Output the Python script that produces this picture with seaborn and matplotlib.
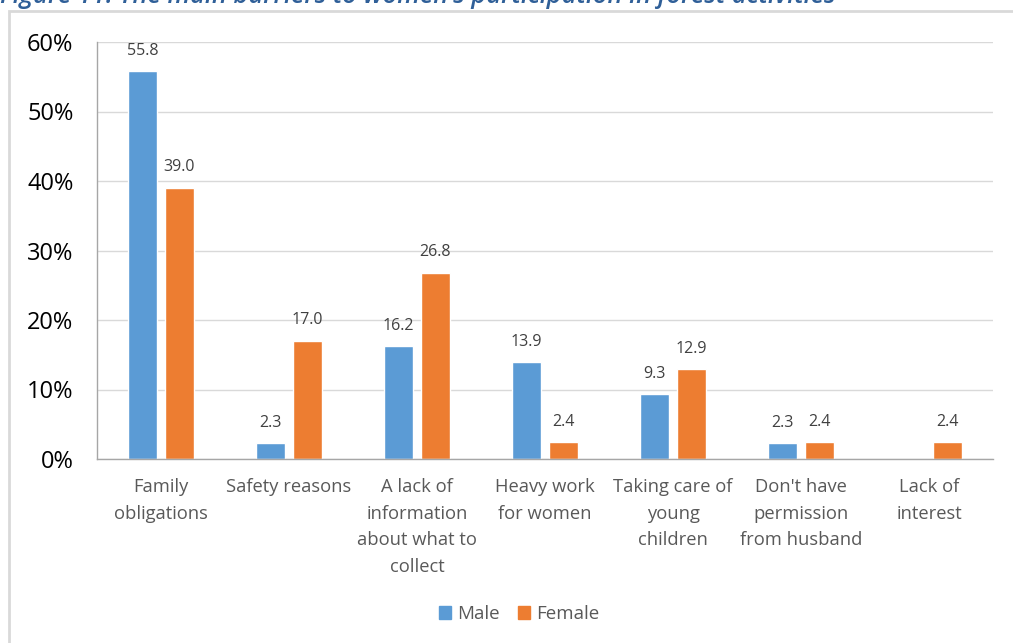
import matplotlib
matplotlib.use("Agg")
import matplotlib.pyplot as plt
import matplotlib.patches as mpatches
from matplotlib.ticker import FixedLocator, FuncFormatter
import numpy as np
import pandas as pd
import seaborn as sns

categories = ["Family\nobligations", "Safety reasons", "A lack of\ninformation\nabout what to\ncollect",
              "Heavy work\nfor women", "Taking care of\nyoung\nchildren", "Don't have\npermission\nfrom husband",
              "Lack of\ninterest"]
male = [55.8, 2.3, 16.2, 13.9, 9.3, 2.3, np.nan]
female = [39.0, 17.0, 26.8, 2.4, 12.9, 2.4, 2.4]
series = ["Male", "Female"]
title = "Figure 11: The main barriers to women's participation in forest activities"

sns.set_style("white")
plt.rcParams['font.family'] = ['Open Sans', 'DejaVu Sans']

df = pd.DataFrame({
    "category": categories * 2,
    "value": male + female,
    "series": ["Male"] * len(categories) + ["Female"] * len(categories),
})

fig = plt.figure(figsize=(10.13, 6.43), dpi=100)
ax = fig.add_axes([97/1013, 1-459/643, (993-97)/1013, (459-42)/643])

sns.barplot(data=df, x="category", y="value", hue="series", order=categories,
            hue_order=series, palette=["#5B9BD5", "#ED7D31"], width=0.578, gap=0.216,
            ax=ax, legend=False, saturation=1)

ax.set_ylim(0, 60)
ax.set_xlim(-0.5, len(categories) - 0.5)
ax.set_yticks([0, 10, 20, 30, 40, 50, 60])
ax.yaxis.set_major_formatter(FuncFormatter(lambda v, p: f"{int(v)}%"))
ax.grid(axis="y", color="#D9D9D9", linewidth=1)
ax.set_axisbelow(True)
ax.set_xlabel("")
ax.set_ylabel("")

for s in ["top", "right"]:
    ax.spines[s].set_visible(False)
for s in ["left", "bottom"]:
    ax.spines[s].set_color("#A6A6A6")
    ax.spines[s].set_linewidth(1)

ax.tick_params(axis="y", length=7, width=1, color="#A6A6A6", labelsize=17, labelcolor="#000000", pad=10)
ax.tick_params(axis="x", which="major", length=0, labelsize=13.2, labelcolor="#595959", pad=14)
ax.xaxis.set_minor_locator(FixedLocator(np.arange(-0.5, len(categories), 1.0)))
ax.tick_params(axis="x", which="minor", length=6, width=1, color="#A6A6A6")
for lbl in ax.get_xticklabels():
    lbl.set_linespacing(1.6)
    lbl.set_verticalalignment("top")

for cont in ax.containers:
    labels = []
    for v in cont.datavalues:
        labels.append("" if np.isnan(v) else f"{v:.1f}")
    ax.bar_label(cont, labels=labels, padding=9, fontsize=11.5, color="#404040")

handles = [mpatches.Patch(color="#5B9BD5", label="Male"), mpatches.Patch(color="#ED7D31", label="Female")]
fig.legend(handles=handles, loc="center", bbox_to_anchor=(519/1013, 1-614/643), ncol=2, frameon=False,
           fontsize=13.5, handlelength=0.65, handleheight=0.65, handletextpad=0.3, columnspacing=1.0,
           labelcolor="#595959")

# outer frame
fig.patches.append(mpatches.Rectangle((8.5/1013, -0.1), 1.2, 1.1 - 11.5/643, transform=fig.transFigure,
                                      fill=False, edgecolor="#D9D9D9", linewidth=2, zorder=0))

fig.text(0, 1 - 3/643, title, ha="left", va="baseline", fontsize=18.4, style="italic", fontweight="semibold",
         color="#2F5F98")

fig.savefig("out.png", dpi=100)
